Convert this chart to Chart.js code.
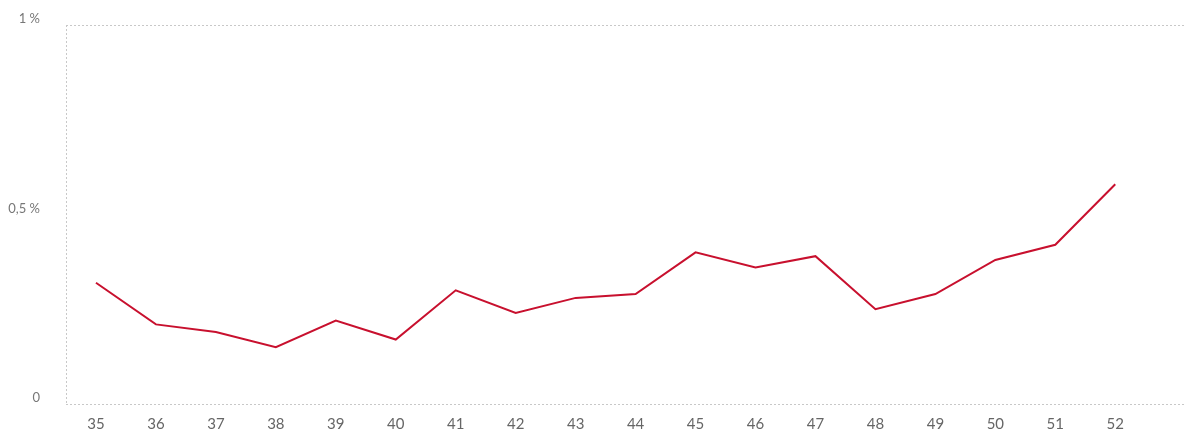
<!DOCTYPE html>
<html>
<head>
<meta charset="utf-8">
<script src="https://cdn.jsdelivr.net/npm/chart.js@4/dist/chart.umd.min.js"></script>
<style>
  html, body { margin: 0; padding: 0; background: #fff; }
  #wrap { width: 1190px; height: 430px; }
</style>
</head>
<body>
<div id="wrap"><canvas id="grafico"></canvas></div>
<script>
// semanas e valores (%)
const semanas = [35, 36, 37, 38, 39, 40, 41, 42, 43, 44, 45, 46, 47, 48, 49, 50, 51, 52];
const valores = [0.32, 0.21, 0.19, 0.15, 0.22, 0.17, 0.30, 0.24, 0.28, 0.29, 0.40, 0.36, 0.39, 0.25, 0.29, 0.38, 0.42, 0.58];
const ticksY = [0, 0.5, 1];
const rotulosY = ['0', '0,5 %', '1 %'];

const pontos = semanas.map((s, i) => ({ x: s, y: valores[i] }));
const inicioX = 34.5;

new Chart(document.getElementById('grafico'), {
    type: 'line',
    data: {
        datasets: [{
            data: pontos,
            borderColor: '#c8102e',
            borderWidth: 2,
            pointRadius: 0,
            tension: 0,
            fill: false
        }]
    },
    options: {
        responsive: true,
        maintainAspectRatio: false,
        animation: false,
        layout: { padding: { top: 25, right: 4, left: 0, bottom: 0 } },
        plugins: { legend: { display: false }, tooltip: { enabled: false } },
        scales: {
            x: {
                type: 'linear',
                min: inicioX,
                max: 53.18,
                afterBuildTicks: (axis) => { axis.ticks = [inicioX, ...semanas].map(v => ({ value: v })); },
                afterFit: (axis) => { axis.height = 26; axis.paddingLeft = 0; axis.paddingRight = 0; },
                grid: {
                    drawTicks: false,
                    color: (ctx) => ctx.tick && ctx.tick.value === inicioX ? '#c8c8c8' : 'rgba(0,0,0,0)'
                },
                border: { display: false, dash: [2, 2] },
                ticks: {
                    color: '#666',
                    font: { family: 'Lato', size: 15 },
                    padding: 11,
                    maxRotation: 0,
                    autoSkip: false,
                    callback: (v) => v === inicioX ? '' : String(v)
                }
            },
            y: {
                min: 0,
                max: 1,
                afterBuildTicks: (axis) => { axis.ticks = ticksY.map(v => ({ value: v })); },
                afterFit: (axis) => { axis.width = 66; axis.paddingTop = 0; axis.paddingBottom = 0; },
                grid: {
                    drawTicks: false,
                    color: (ctx) => ctx.tick && ctx.tick.value === 0.5 ? 'rgba(0,0,0,0)' : '#c8c8c8',
                    lineWidth: 1
                },
                border: { display: false, dash: [2, 2] },
                ticks: {
                    color: '#777',
                    font: { family: 'Lato', size: 13 },
                    padding: 26,
                    labelOffset: -6,
                    callback: (v) => rotulosY[ticksY.indexOf(v)]
                }
            }
        }
    }
});
</script>
</body>
</html>
